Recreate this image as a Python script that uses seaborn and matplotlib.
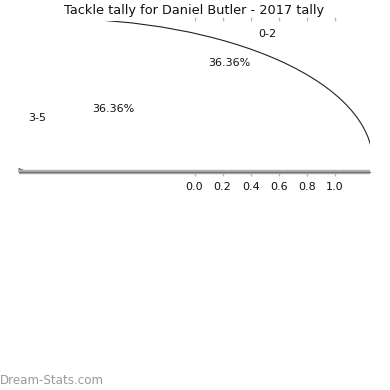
import matplotlib
matplotlib.use('Agg')
import matplotlib.pyplot as plt
import seaborn as sns
from matplotlib.patches import Arc, Polygon

sns.set_theme(style='white')
plt.rcParams['font.family'] = ['DejaVu Sans']

# Data
tally_labels = ['0-2', '3-5', '6-8']
tally_counts = [4, 4, 3]
label_shown = [True, True, False]
x_ticks = [0.0, 0.2, 0.4, 0.6, 0.8, 1.0]
title = 'Tackle tally for Daniel Butler - 2017 tally'

fig = plt.figure(figsize=(3.9, 3.9), dpi=100)
ax = fig.add_axes([19 / 390, 218 / 390, 351 / 390, 151 / 390])

# Pie, wedges blend into the background
wedges, texts, autotexts = ax.pie(tally_counts, labels=tally_labels, autopct='%1.2f%%',
                                  colors=['white'] * len(tally_counts), frame=True,
                                  textprops={'fontsize': 8, 'color': '#111111'})
for t, a, s in zip(texts, autotexts, label_shown):
    t.set_visible(s)
    a.set_visible(s)

ax.set_aspect('auto')
ax.set_xlim(-1.25, 1.25)
ax.set_ylim(-1.156, 1.203)

# the stray outline arc
ax.add_patch(Arc((-1, -1), 2 * 2.27, 2 * 2.24, theta1=0, theta2=90,
                 color='#222222', lw=0.8))

# frame
for side in ['left', 'right', 'top']:
    ax.spines[side].set_visible(False)
ax.spines['bottom'].set_color('#b0b0b0')
ax.spines['bottom'].set_linewidth(3.2)
ax.spines['bottom'].set_capstyle('butt')
ax.axhline(ax.get_ylim()[0], color='#707070', lw=0.9, clip_on=False, zorder=3)
ax.add_patch(Polygon([(0, 0), (0, 0.024), (0.018, 0.006)], closed=True,
                     transform=ax.transAxes, facecolor='#aaaaaa', edgecolor='#555555',
                     lw=0.6, clip_on=False))

ax.set_xticks(x_ticks)
ax.set_xticklabels([f'{v:.1f}' for v in x_ticks])
ax.set_yticks([])
ax.tick_params(axis='x', top=True, bottom=True, labeltop=False, labelbottom=True,
               color='#bbbbbb', length=3, width=1, labelsize=8, labelcolor='#111111',
               direction='out', pad=4.5)

ax.set_title(title, fontsize=9.3, pad=5, color='#111111')

fig.text(0.0, 0.025, 'Dream-Stats.com', color='#999999', fontsize=8.6,
         family=['DejaVu Sans'], va='center', ha='left')

fig.savefig('out.png', dpi=100)
